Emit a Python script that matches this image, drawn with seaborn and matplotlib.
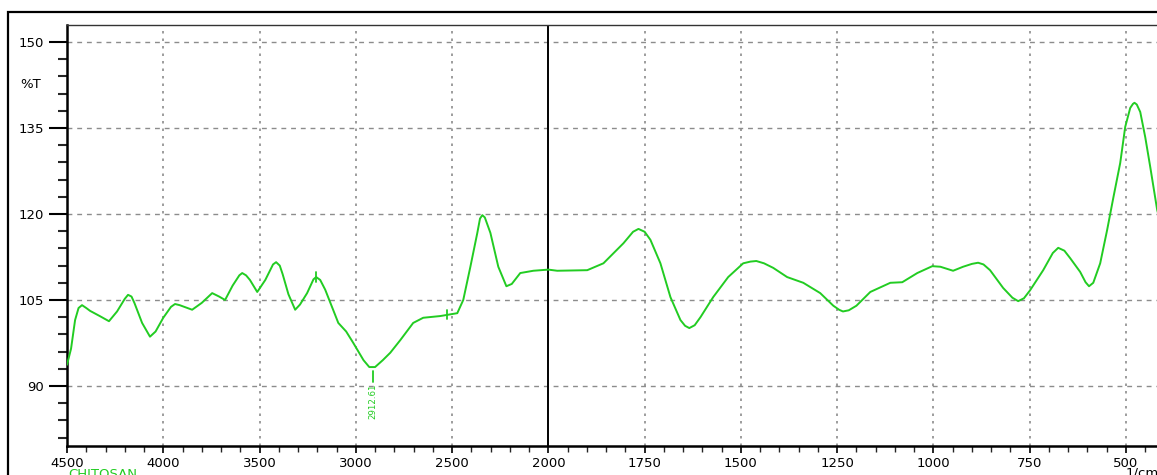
import numpy as np
import pandas as pd
import matplotlib
matplotlib.use("Agg")
import matplotlib.pyplot as plt
from matplotlib.patches import Rectangle
from matplotlib.ticker import FixedLocator, FixedFormatter
import seaborn as sns

# ---------------- data ----------------
wavenumber = [4500, 4479, 4458, 4440, 4422, 4400, 4380, 4330, 4282, 4240, 4200, 4183, 4165, 4150, 4110,
              4069, 4040, 4000, 3960, 3939, 3915, 3890, 3850, 3800, 3746, 3710, 3679, 3640, 3605, 3590,
              3570, 3550, 3512, 3470, 3430, 3414, 3395, 3380, 3350, 3315, 3290, 3253, 3220, 3206, 3185,
              3159, 3091, 3050, 3013, 2960, 2930, 2900, 2860, 2821, 2769, 2702, 2650, 2561, 2473, 2442,
              2405, 2369, 2355, 2343, 2330, 2301, 2260, 2218, 2190, 2146, 2078, 2000, 1977, 1899, 1857,
              1805, 1780, 1766, 1750, 1735, 1709, 1683, 1657, 1645, 1634, 1620, 1605, 1572, 1533, 1494,
              1475, 1460, 1440, 1416, 1380, 1338, 1294, 1260, 1245, 1235, 1220, 1200, 1164, 1112, 1081,
              1042, 1003, 982, 949, 923, 900, 884, 870, 853, 819, 795, 780, 765, 749, 715, 690, 676, 660,
              645, 619, 605, 596, 585, 567, 549, 533, 515, 502, 489, 482, 478, 472, 463, 450, 437, 419, 400]
transmittance = [93.7, 96.5, 101.5, 103.6, 104.1, 103.6, 103.1, 102.2, 101.3, 103.0, 105.2, 105.9, 105.6,
                 104.5, 101.0, 98.6, 99.5, 101.9, 103.8, 104.3, 104.1, 103.8, 103.3, 104.5, 106.2, 105.6,
                 105.0, 107.5, 109.3, 109.7, 109.3, 108.5, 106.4, 108.5, 111.2, 111.6, 111.0, 109.5, 106.0,
                 103.3, 104.2, 106.2, 108.6, 109.0, 108.5, 106.8, 101.0, 99.5, 97.5, 94.5, 93.3, 93.3, 94.5,
                 95.8, 98.0, 101.0, 101.9, 102.2, 102.7, 105.0, 110.8, 116.7, 119.2, 119.8, 119.4, 116.7,
                 110.8, 107.4, 107.8, 109.7, 110.1, 110.3, 110.1, 110.2, 111.4, 114.9, 116.9, 117.4, 116.9,
                 115.5, 111.4, 105.5, 101.5, 100.5, 100.1, 100.6, 102.0, 105.5, 109.0, 111.4, 111.7, 111.8,
                 111.4, 110.6, 109.0, 108.0, 106.2, 104.0, 103.3, 103.0, 103.2, 104.0, 106.4, 108.0, 108.1,
                 109.7, 110.9, 110.8, 110.1, 110.8, 111.3, 111.5, 111.2, 110.2, 107.1, 105.4, 104.8, 105.3,
                 106.7, 110.2, 113.2, 114.1, 113.6, 112.3, 109.9, 108.1, 107.4, 108.0, 111.4, 117.2, 122.8,
                 128.9, 135.2, 138.5, 139.2, 139.4, 139.1, 137.8, 133.4, 128.2, 120.7, 116.0]

peak_label_wn = 2912.61
peak_label_val = 93.3
peak_label_text = "2912.61"
marker_wn = [3206, 2525]
marker_val = [109.0, 102.4]

x_major = [4500, 4000, 3500, 3000, 2500, 2000, 1750, 1500, 1250, 1000, 750, 500]
x_minor = [w for w in list(range(4400, 2000, -100)) + list(range(1950, 399, -50)) if w not in x_major]
y_major = [150, 135, 120, 105, 90]
y_minor = [v for v in range(81, 150, 3) if v not in y_major]

sample_name = "CHITOSAN"
y_label = "%T"
x_unit = "1/cm"

df = pd.DataFrame({"wavenumber": wavenumber, "T": transmittance})

# ---------------- styling ----------------
sns.set_style("ticks")
plt.rcParams["font.family"] = ["DejaVu Sans"]
GREEN = "#22cc22"
GRID = "#8c8c8c"

W, H = 1157, 475
fig = plt.figure(figsize=(W / 100, H / 100), dpi=100)
fig.patch.set_facecolor("white")

left_px, right_px, top_px, bottom_px = 67, 1164.5, 25, 446
ax = fig.add_axes([left_px / W, 1 - bottom_px / H, (right_px - left_px) / W, (bottom_px - top_px) / H])

# two-scale wavenumber axis: below 2000 cm-1 expanded x2
def fwd(x):
    x = np.asarray(x, dtype=float)
    return np.where(x >= 2000, x, 2 * x - 2000)

def inv(u):
    u = np.asarray(u, dtype=float)
    return np.where(u >= 2000, u, (u + 2000) / 2)

ax.set_xscale("function", functions=(fwd, inv))

sns.lineplot(data=df, x="wavenumber", y="T", ax=ax, sort=False, estimator=None,
             color=GREEN, linewidth=1.4, zorder=3)

ax.set_xlim(4500, 400)
ax.set_ylim(79.53, 152.97)

ax.xaxis.set_major_locator(FixedLocator(x_major))
ax.xaxis.set_major_formatter(FixedFormatter([str(v) for v in x_major]))
ax.xaxis.set_minor_locator(FixedLocator(x_minor))
ax.yaxis.set_major_locator(FixedLocator(y_major))
ax.yaxis.set_major_formatter(FixedFormatter([str(v) for v in y_major]))
ax.yaxis.set_minor_locator(FixedLocator(y_minor))

ax.tick_params(axis="x", which="major", direction="out", length=5, width=1.2, pad=3,
               labelsize=9.5, colors="black")
ax.tick_params(axis="x", which="minor", direction="out", length=4, width=1.0)
ax.tick_params(axis="y", which="major", direction="out", length=13, width=1.5, pad=3.5,
               labelsize=9.5, colors="black")
ax.tick_params(axis="y", which="minor", direction="out", length=6.5, width=1.5)

ax.set_xlabel("")
ax.set_ylabel("")

# grid: dashed horizontals, dotted verticals
for v in y_major:
    ax.axhline(v, color=GRID, lw=1.0, ls=(0, (3.5, 3.5)), zorder=1)
for w in x_major:
    if w != 2000:
        ax.axvline(w, color=GRID, lw=1.2, ls=(0, (1.5, 3)), zorder=1)
ax.axvline(2000, color="black", lw=1.4, zorder=2)

for side in ["left", "bottom"]:
    ax.spines[side].set_linewidth(1.8)
    ax.spines[side].set_color("black")
ax.spines["top"].set_linewidth(1.0)
ax.spines["top"].set_color("#333333")
ax.spines["right"].set_visible(False)

# peak label
ax.plot([peak_label_wn, peak_label_wn], [peak_label_val - 0.6, peak_label_val - 2.6],
        color=GREEN, lw=1.3, zorder=3)
ax.text(peak_label_wn, peak_label_val - 2.8, peak_label_text, rotation=90, ha="center", va="top",
        color=GREEN, fontsize=6.2, zorder=3)
for w, v in zip(marker_wn, marker_val):
    ax.plot([w, w], [v - 0.8, v + 0.8], color=GREEN, lw=1.3, zorder=3)

# outer frame and extra texts
fig.patches.append(Rectangle((8 / W, -0.1), 1.2, 1 - 12 / H + 0.1, transform=fig.transFigure,
                             fill=False, edgecolor="black", linewidth=1.6, zorder=0))
fig.text(20 / W, 1 - 85 / H, y_label, ha="left", va="center", fontsize=9.5, color="black")
fig.text(68 / W, 1 - 468 / H, sample_name, ha="left", va="top", fontsize=9.5, color=GREEN)
fig.text(1126 / W, 1 - 467 / H, x_unit, ha="left", va="top", fontsize=9.5, color="black")

fig.savefig("out.png", dpi=100)
